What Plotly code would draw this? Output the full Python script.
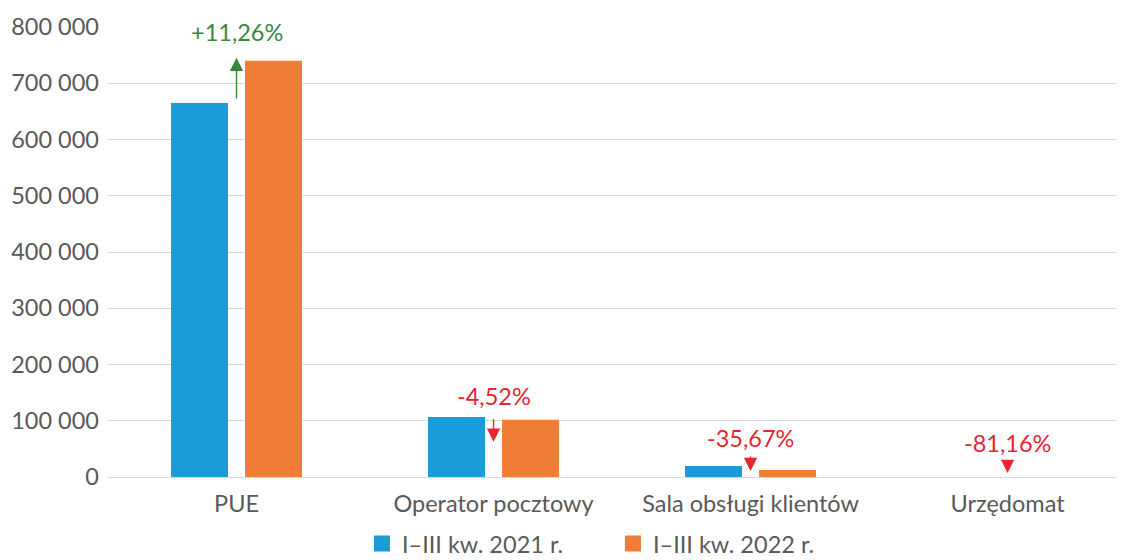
import plotly.graph_objects as go

categories = ["PUE", "Operator pocztowy", "Sala obsługi klientów", "Urzędomat"]
series_names = ["I–III kw. 2021 r.", "I–III kw. 2022 r."]
values_2021 = [665000, 106700, 19500, 150]
values_2022 = [740000, 101900, 12550, 28]
change_labels = ["+11,26%", "-4,52%", "-35,67%", "-81,16%"]
y_ticks = [0, 100000, 200000, 300000, 400000, 500000, 600000, 700000, 800000]

BLUE = "rgba(27,155,215,0.999)"
ORANGE = "rgba(239,125,53,0.999)"
GREEN = "#37873b"
RED = "#e52631"
FONT = "Lato"
FS = 23.5
GREY = "#595959"
GRID = "#d9d9d9"

fig = go.Figure()
colors = [BLUE, ORANGE]
for name, vals, col in zip(series_names, [values_2021, values_2022], colors):
    fig.add_trace(go.Bar(x=categories, y=vals, name=name, showlegend=False,
                         marker=dict(color=col, line=dict(width=0))))
# legend entries with large square swatches
for name, col in zip(series_names, colors):
    fig.add_trace(go.Scatter(x=[None], y=[None], mode="markers", name=name,
                             marker=dict(symbol="square", size=20, color=col),
                             showlegend=True))

label_shift = [13, 5, 12, 18]
arrow_shift = [0, -22, -1, 4]
arrow_len = [0, 24, 16, 13]

for i, (cat, v1, v2, lab) in enumerate(zip(categories, values_2021, values_2022, change_labels)):
    up = v2 > v1
    col = GREEN if up else RED
    fig.add_annotation(x=i, y=max(v1, v2), xref="x", yref="y", text=lab,
                       showarrow=False, yanchor="bottom", yshift=label_shift[i],
                       font=dict(family=FONT, size=FS, color=col))
    if up:
        fig.add_annotation(x=i, y=v2, ax=i, ay=v1, xref="x", yref="y",
                           axref="x", ayref="y", text="", showarrow=True,
                           arrowhead=2, arrowsize=1.9, arrowwidth=1.4,
                           arrowcolor=col, standoff=0, yshift=3)
    else:
        fig.add_annotation(x=i, y=v2, xref="x", yref="y", text="",
                           yshift=arrow_shift[i], showarrow=True, ax=0, ay=-arrow_len[i],
                           arrowhead=2, arrowsize=1.9, arrowwidth=1.4,
                           arrowcolor=col, standoff=0)

fig.update_layout(
    width=1116, height=552,
    margin=dict(l=100, r=0, t=19, b=83, autoexpand=False),
    paper_bgcolor="white", plot_bgcolor="white",
    barmode="group", bargap=0.424, bargroupgap=0.23,
    separators=", ",
    font=dict(family=FONT, size=FS, color=GREY),
    showlegend=True,
    legend=dict(orientation="h", x=0.497, xanchor="center",
                yref="paper", y=-0.148, yanchor="middle",
                bgcolor="rgba(0,0,0,0)",
                font=dict(family=FONT, size=FS, color=GREY),
                itemsizing="trace", traceorder="normal", entrywidth=206),
)
fig.update_xaxes(type="category", range=[-0.5, 3.453], automargin=False,
                 showline=True, linecolor=GRID, linewidth=1, layer="above traces",
                 showgrid=False, ticks="", ticklabelstandoff=6,
                 tickfont=dict(family=FONT, size=FS, color=GREY))
fig.update_yaxes(range=[0, 800000], tickvals=y_ticks, tickformat=",d", automargin=False,
                 showgrid=True, gridcolor=GRID, gridwidth=1, zeroline=True,
                 zerolinecolor=GRID, zerolinewidth=1, showline=False,
                 ticks="", ticklabelstandoff=8,
                 tickfont=dict(family=FONT, size=FS, color=GREY))

fig.write_html("out.html")
